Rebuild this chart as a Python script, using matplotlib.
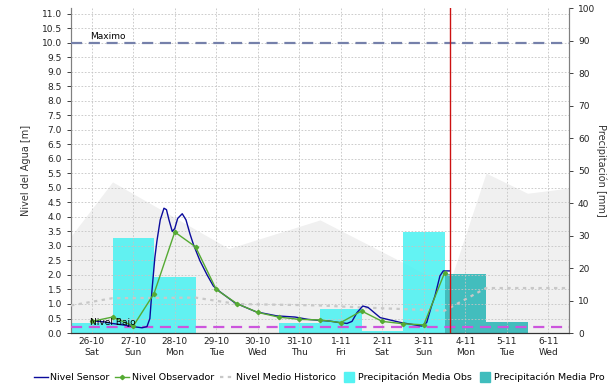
"""
Nivel del agua y precipitacion - recreacion del grafico
"""

import matplotlib
matplotlib.use('Agg')
import matplotlib.pyplot as plt
from matplotlib.lines import Line2D

# Configuration
plt.rcParams['font.family'] = ['DejaVu Sans']

# Jours (position 0 = 26-10)
day_labels = ['26-10\nSat', '27-10\nSun', '28-10\nMon', '29-10\nTue', '30-10\nWed', '31-10\nThu',
              '1-11\nFri', '2-11\nSat', '3-11\nSun', '4-11\nMon', '5-11\nTue', '6-11\nWed']
day_pos = list(range(len(day_labels)))

# Nivel Sensor [m]
sensor_x = [0.0, 0.32, 0.49, 0.8, 1.0, 1.21, 1.33, 1.4, 1.45, 1.52, 1.57, 1.65, 1.74, 1.8, 1.86,
            1.94, 2.0, 2.07, 2.18, 2.27, 2.37, 2.45, 2.61, 2.78, 2.93, 3.09, 3.45, 3.96, 4.46,
            4.9, 5.21, 5.45, 5.74, 5.96, 6.15, 6.27, 6.39, 6.53, 6.66, 6.95, 7.45, 7.95, 8.07,
            8.18, 8.27, 8.39, 8.47, 8.62]
sensor_y = [0.42, 0.38, 0.33, 0.27, 0.22, 0.18, 0.22, 0.5, 1.45, 2.6, 3.17, 3.9, 4.3, 4.25, 3.9,
            3.5, 3.6, 3.95, 4.11, 3.9, 3.4, 3.05, 2.48, 2.0, 1.62, 1.42, 1.04, 0.73, 0.59,
            0.55, 0.47, 0.44, 0.41, 0.36, 0.33, 0.4, 0.7, 0.93, 0.88, 0.53, 0.36, 0.24, 0.36,
            0.9, 1.28, 1.97, 2.14, 2.14]

# Nivel Observador [m] (toutes les 12 h)
obs_x = [0.0, 0.5, 1.0, 1.5, 2.0, 2.5, 3.0, 3.5, 4.0, 4.5, 5.0, 5.5, 6.0, 6.5, 7.0, 7.5, 8.0, 8.5]
obs_y = [0.4, 0.55, 0.24, 1.36, 3.48, 2.97, 1.5, 1.01, 0.71, 0.55, 0.47, 0.45, 0.36, 0.76,
         0.4, 0.32, 0.28, 2.07]

# Nivel Medio Historico [m]
hist_x = [-0.5, 0.5, 2.5, 3.5, 5.5, 6.5, 8.5, 9.5, 11.5]
hist_y = [0.95, 1.2, 1.22, 1.0, 0.95, 0.88, 0.77, 1.55, 1.55]

# Enveloppe de fond (gris) [mm]
env_x = [-0.5, 0.5, 3.3, 5.5, 8.6, 9.5, 10.5, 11.5]
env_y = [29.8, 46.5, 26.0, 34.8, 14.5, 49.2, 43.0, 44.6]

# Precipitation [mm]
precip_obs = [3.2, 29.3, 17.3, 0.0, 0.0, 3.0, 7.4, 0.5, 31.0, 0.0, 0.0, 0.0]
precip_pro = [0.0, 0.0, 0.0, 0.0, 0.0, 0.0, 0.0, 0.0, 0.0, 18.2, 3.5, 0.0]

NIVEL_MAXIMO = 10.0
NIVEL_BAJO = 0.2
HORA_ACTUAL = 8.62

fig = plt.figure(figsize=(6.08, 3.87), dpi=100)
ax2 = fig.add_axes([0.1168, 0.1395, 0.8191, 0.8398])
ax1 = ax2.twinx()

# Axe des precipitations (dessous)
ax2.fill_between(env_x, 0, env_y, color='#f0f0f0', lw=0, zorder=0)
ax2.bar(day_pos, precip_obs, width=1.0, color='#48f2f2', alpha=0.85, lw=0, zorder=2)
ax2.bar(day_pos, precip_pro, width=1.0, color='#30b8b8', alpha=0.9, lw=0, zorder=2)
ax2.set_ylim(0, 100)
ax2.set_yticks(range(0, 101, 10))
ax2.yaxis.tick_right()
ax2.yaxis.set_label_position('right')
ax2.set_ylabel('Precipitación [mm]', rotation=270, labelpad=8, fontsize=7, color='#333333')

# Axe du niveau (dessus)
ax1.set_zorder(ax2.get_zorder() + 1)
ax1.patch.set_visible(False)
ax1.yaxis.tick_left()
ax1.yaxis.set_label_position('left')
ax1.set_ylim(0, 11.2)
ax1.set_yticks([i * 0.5 for i in range(23)])
ax1.set_yticklabels([f'{i * 0.5:.1f}' for i in range(23)])
ax1.set_ylabel('Nivel del Agua [m]', fontsize=7, color='#333333', labelpad=8)

for y in ax1.get_yticks():
    ax1.axhline(y, color='#c4c4c4', lw=0.6, ls=(0, (2, 2)), zorder=1)
for x in day_pos:
    ax1.axvline(x, color='#c4c4c4', lw=0.6, ls=(0, (2, 2)), zorder=1)

ax1.plot(hist_x, hist_y, color='#c8c8c8', lw=1.6, ls=(0, (1.5, 2)), zorder=3)
ax1.axhline(NIVEL_MAXIMO, color='#7580aa', lw=1.6, ls=(0, (5, 3)), zorder=3)
ax1.axhline(NIVEL_BAJO, color='#cc55dd', lw=1.6, ls=(0, (5, 3)), zorder=3)
ax1.text(-0.05, NIVEL_MAXIMO + 0.05, 'Maximo', fontsize=6.5, va='bottom', ha='left', zorder=5)
ax1.text(-0.05, NIVEL_BAJO + 0.02, 'Nivel Bajo', fontsize=6.5, va='bottom', ha='left', zorder=5)
ax1.plot(sensor_x, sensor_y, color='#0b0b9c', lw=1.0, zorder=4)
ax1.plot(obs_x, obs_y, color='#55aa33', lw=1.0, marker='D', ms=2.2, zorder=4)
ax1.axvline(HORA_ACTUAL, color='#cc1111', lw=1.0, zorder=5)

ax1.set_xlim(-0.5, 11.5)
ax2.set_xlim(-0.5, 11.5)
ax2.set_xticks(day_pos)
ax2.set_xticklabels(day_labels)

for ax in (ax1, ax2):
    ax.tick_params(axis='both', labelsize=6.5, colors='#222222', length=3, width=0.6)
    ax.tick_params(axis='x', length=0, pad=3)
    ax.spines['top'].set_visible(False)
    for side in ('left', 'right'):
        ax.spines[side].set_color('#808080')
        ax.spines[side].set_linewidth(0.8)
    ax.spines['bottom'].set_color('#333333')
    ax.spines['bottom'].set_linestyle((0, (1, 1)))
ax1.tick_params(axis='x', labelbottom=False)

# Legende
handles = [
    Line2D([], [], color='#0b0b9c', lw=1.0),
    Line2D([], [], color='#55aa33', lw=1.0, marker='D', ms=2.2),
    Line2D([], [], color='#c8c8c8', lw=1.6, ls=(0, (1.5, 2))),
    Line2D([], [], color='#55f3f3', marker='s', ms=7, ls='none'),
    Line2D([], [], color='#3fbdbd', marker='s', ms=7, ls='none'),
]
labels = ['Nivel Sensor', 'Nivel Observador', 'Nivel Medio Historico',
          'Precipitación Media Obs', 'Precipitación Media Pro']
fig.legend(handles, labels, loc='center', bbox_to_anchor=(0.525, 0.025), ncol=5,
           frameon=False, fontsize=6.8, handlelength=1.5, handletextpad=0.25,
           columnspacing=0.6, borderaxespad=0, borderpad=0)

plt.savefig('out.png', dpi=100)
